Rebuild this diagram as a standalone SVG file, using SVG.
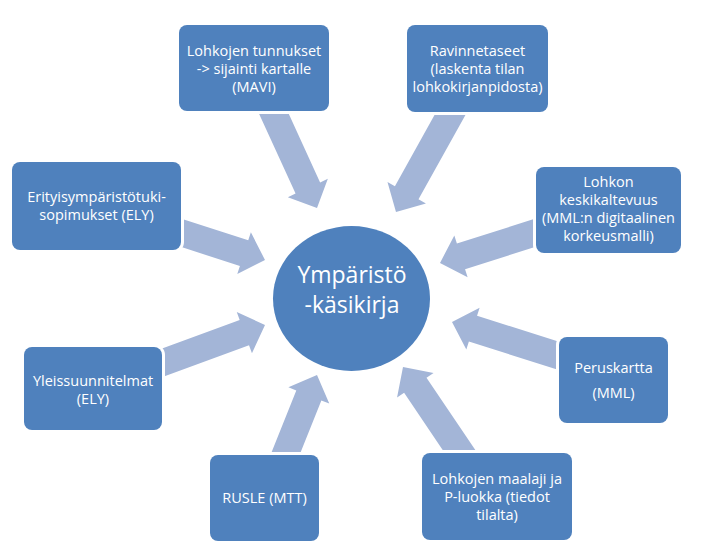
<svg xmlns="http://www.w3.org/2000/svg" width="713" height="547" viewBox="0 0 713 547">
<style>
.arrow{fill:#a3b5d7}
.box{fill:#4f81bd;stroke:#ffffff;stroke-width:6;paint-order:stroke}
.t{fill:#ffffff;font-family:"Open Sans","Liberation Sans",sans-serif;font-size:14.5px;text-anchor:middle}
.c{fill:#ffffff;font-family:"Open Sans","Liberation Sans",sans-serif;font-size:23px;text-anchor:middle}
</style>
<rect width="713" height="547" fill="#ffffff"/>
<g id="connectors">
<path class="arrow" transform="translate(317,208) rotate(65.4)" d="M0,0 L-22,-22 L-22,-13.5 L-118,-13.5 L-118,13.5 L-22,13.5 L-22,22 Z"/>
<path class="arrow" transform="translate(396,212) rotate(119.1)" d="M0,0 L-22,-22 L-22,-13.5 L-126,-13.5 L-126,13.5 L-22,13.5 L-22,22 Z"/>
<path class="arrow" transform="translate(440,263) rotate(162.4)" d="M0,0 L-22,-22 L-22,-13.5 L-116,-13.5 L-116,13.5 L-22,13.5 L-22,22 Z"/>
<path class="arrow" transform="translate(265,260) rotate(18)" d="M0,0 L-22,-22 L-22,-13.5 L-102,-13.5 L-102,13.5 L-22,13.5 L-22,22 Z"/>
<path class="arrow" transform="translate(265,325) rotate(-20.2)" d="M0,0 L-22,-22 L-22,-13.5 L-125,-13.5 L-125,13.5 L-22,13.5 L-22,22 Z"/>
<path class="arrow" transform="translate(317,375) rotate(-68.2)" d="M0,0 L-22,-22 L-22,-13.5 L-101,-13.5 L-101,13.5 L-22,13.5 L-22,22 Z"/>
<path class="arrow" transform="translate(403,367) rotate(-124)" d="M0,0 L-22,-22 L-22,-13.5 L-119,-13.5 L-119,13.5 L-22,13.5 L-22,22 Z"/>
<path class="arrow" transform="translate(452,322) rotate(-162.4)" d="M0,0 L-22,-22 L-22,-13.5 L-127,-13.5 L-127,13.5 L-22,13.5 L-22,22 Z"/>
</g>
<g id="center">
<ellipse cx="351.5" cy="298.5" rx="78.5" ry="72.5" fill="#4f81bd"/>
<text class="c" x="352" y="283">Ympäristö</text>
<text class="c" x="352" y="313">-käsikirja</text>
</g>
<g id="n1">
<rect class="box" x="179" y="25" width="150" height="86" rx="8"/>
<text class="t" x="254" y="56">Lohkojen tunnukset</text>
<text class="t" x="254" y="74">-&gt; sijainti kartalle</text>
<text class="t" x="254" y="92">(MAVI)</text>
</g>
<g id="n2">
<rect class="box" x="407" y="25" width="141" height="87" rx="8"/>
<text class="t" x="477.5" y="56">Ravinnetaseet</text>
<text class="t" x="477.5" y="74">(laskenta tilan</text>
<text class="t" x="477.5" y="92">lohkokirjanpidosta)</text>
</g>
<g id="n3">
<rect class="box" x="536" y="167" width="145" height="86" rx="8"/>
<text class="t" x="608.5" y="187">Lohkon</text>
<text class="t" x="608.5" y="205">keskikaltevuus</text>
<text class="t" x="608.5" y="223">(MML:n digitaalinen</text>
<text class="t" x="608.5" y="241">korkeusmalli)</text>
</g>
<g id="n4">
<rect class="box" x="12" y="162" width="169" height="88" rx="8"/>
<text class="t" x="96.5" y="202">Erityisympäristötuki-</text>
<text class="t" x="96.5" y="220">sopimukset (ELY)</text>
</g>
<g id="n5">
<rect class="box" x="24" y="347" width="138" height="83" rx="8"/>
<text class="t" x="93" y="386">Yleissuunnitelmat</text>
<text class="t" x="93" y="404">(ELY)</text>
</g>
<g id="n6">
<rect class="box" x="559" y="337" width="109" height="86" rx="8"/>
<text class="t" x="613.5" y="373">Peruskartta</text>
<text class="t" x="613.5" y="398">(MML)</text>
</g>
<g id="n7">
<rect class="box" x="210" y="455" width="109" height="86" rx="8"/>
<text class="t" x="264.5" y="503">RUSLE (MTT)</text>
</g>
<g id="n8">
<rect class="box" x="422" y="453" width="150" height="87" rx="8"/>
<text class="t" x="497" y="483.5">Lohkojen maalaji ja</text>
<text class="t" x="497" y="501.5">P-luokka (tiedot</text>
<text class="t" x="497" y="519.5">tilalta)</text>
</g>
</svg>
